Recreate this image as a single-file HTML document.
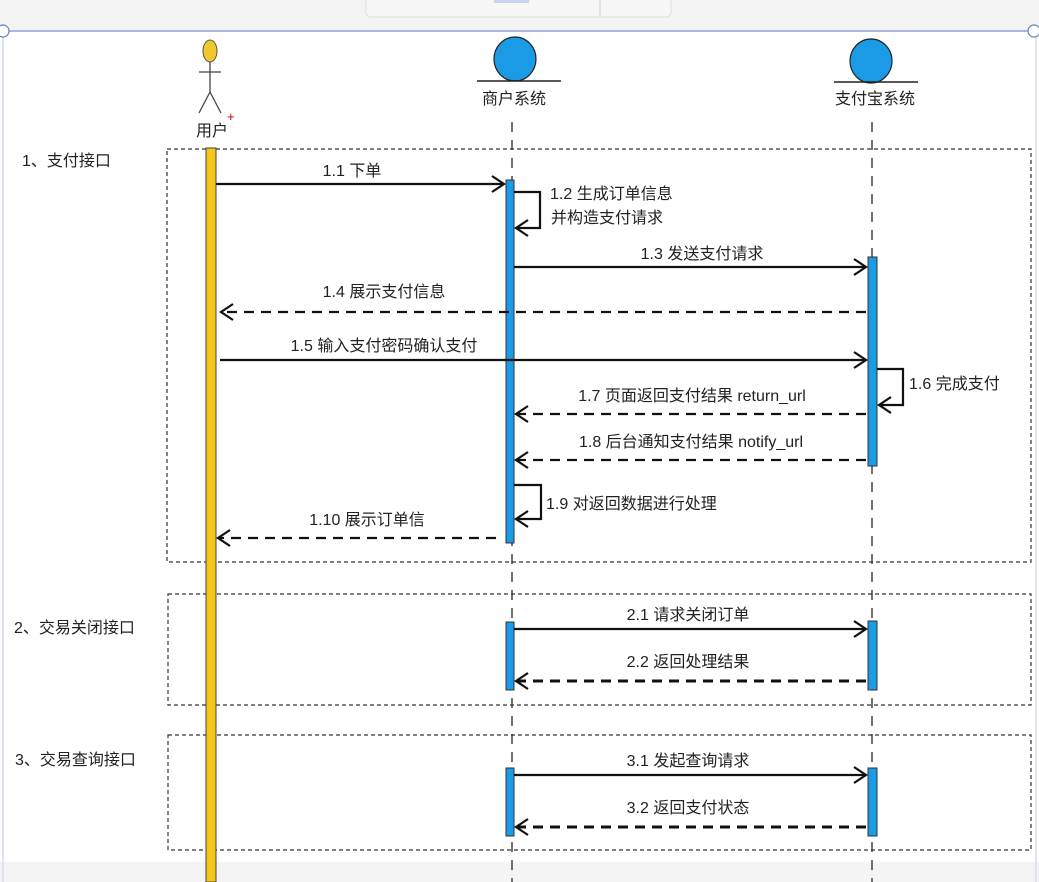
<!DOCTYPE html>
<html><head><meta charset="utf-8"><style>
html,body{margin:0;padding:0;background:#fff;}
svg{display:block;}
text{font-family:"Liberation Sans","Noto Sans CJK SC",sans-serif;font-size:16px;fill:#222;}
</style></head><body>
<svg width="1039" height="882" viewBox="0 0 1039 882" xmlns="http://www.w3.org/2000/svg">
<defs>
<marker id="a" markerWidth="18" markerHeight="18" refX="14" refY="9" orient="auto" markerUnits="userSpaceOnUse">
<path d="M2,1 L14,9 L2,17" fill="none" stroke="#111" stroke-width="2.2"/>
</marker>
</defs>
<rect x="0" y="0" width="1039" height="31" fill="#f3f3f3"/>
<rect x="366" y="-6" width="305" height="23" rx="5" fill="#f7f7f7" stroke="#ddd"/>
<line x1="600" y1="0" x2="600" y2="16" stroke="#ccc"/>
<rect x="494" y="0" width="35" height="3" fill="#c8d4f0"/>
<rect x="0" y="862" width="1039" height="20" fill="#f4f4f4"/>
<line x1="0" y1="31" x2="1039" y2="31" stroke="#a9b7e6" stroke-width="2"/>
<line x1="3" y1="31" x2="3" y2="882" stroke="#dde3f3" stroke-width="2"/>
<line x1="1036" y1="31" x2="1036" y2="882" stroke="#dde3f3" stroke-width="2"/>
<circle cx="3" cy="31" r="6" fill="#fff" stroke="#6d7fb8" stroke-width="1.2"/>
<circle cx="1034" cy="31" r="6" fill="#fff" stroke="#6d7fb8" stroke-width="1.2"/>

<ellipse cx="210" cy="51" rx="7" ry="11" fill="#f2c82c" stroke="#555"/>
<line x1="210" y1="62" x2="210" y2="92" stroke="#444" stroke-width="1.3"/>
<line x1="199" y1="72" x2="221" y2="72" stroke="#444" stroke-width="1.3"/>
<line x1="210" y1="92" x2="199" y2="113" stroke="#444" stroke-width="1.3"/>
<line x1="210" y1="92" x2="221" y2="113" stroke="#444" stroke-width="1.3"/>
<text x="227" y="121" style="fill:#c00;font-size:13px">+</text>
<text x="212" y="136" text-anchor="middle">用户</text>

<ellipse cx="515" cy="59" rx="21" ry="22" fill="#1b9ae6" stroke="#222" stroke-width="1.2"/>
<line x1="477" y1="81" x2="561" y2="81" stroke="#222" stroke-width="1.5"/>
<text x="514" y="104" text-anchor="middle">商户系统</text>
<ellipse cx="871" cy="61" rx="21" ry="22" fill="#1b9ae6" stroke="#222" stroke-width="1.2"/>
<line x1="834" y1="82" x2="918" y2="82" stroke="#222" stroke-width="1.5"/>
<text x="875" y="104" text-anchor="middle">支付宝系统</text>

<line x1="512" y1="122" x2="512" y2="882" stroke="#444" stroke-width="1.5" stroke-dasharray="10,8"/>
<line x1="872" y1="122" x2="872" y2="882" stroke="#444" stroke-width="1.5" stroke-dasharray="10,8"/>

<rect x="167" y="149" width="864" height="413" fill="none" stroke="#333" stroke-width="1.2" stroke-dasharray="4,3"/>
<rect x="168" y="594" width="863" height="111" fill="none" stroke="#333" stroke-width="1.2" stroke-dasharray="4,3"/>
<rect x="168" y="735" width="863" height="115" fill="none" stroke="#333" stroke-width="1.2" stroke-dasharray="4,3"/>
<text x="22" y="166">1、支付接口</text>
<text x="14" y="633">2、交易关闭接口</text>
<text x="15" y="765">3、交易查询接口</text>

<rect x="206" y="148" width="10" height="734" fill="#f5c518" stroke="#444" stroke-width="1"/>

<rect x="506" y="180" width="8" height="363" fill="#1b9ae6" stroke="#333"/>
<rect x="868" y="257" width="9" height="209" fill="#1b9ae6" stroke="#333"/>
<rect x="506" y="622" width="8" height="68" fill="#1b9ae6" stroke="#333"/>
<rect x="868" y="621" width="9" height="69" fill="#1b9ae6" stroke="#333"/>
<rect x="506" y="768" width="8" height="68" fill="#1b9ae6" stroke="#333"/>
<rect x="868" y="768" width="9" height="68" fill="#1b9ae6" stroke="#333"/>

<g stroke="#111" stroke-width="2.2" fill="none">
<line x1="216" y1="184" x2="504" y2="184" marker-end="url(#a)"/>
<polyline points="514,192 540,192 540,228 516,228" marker-end="url(#a)"/>
<line x1="514" y1="267" x2="866" y2="267" marker-end="url(#a)"/>
<line x1="866" y1="312" x2="221" y2="312" stroke-dasharray="10,7" marker-end="url(#a)"/>
<line x1="220" y1="360" x2="866" y2="360" marker-end="url(#a)"/>
<polyline points="877,369 903,369 903,405 879,405" marker-end="url(#a)"/>
<line x1="866" y1="414" x2="516" y2="414" stroke-dasharray="10,7" marker-end="url(#a)"/>
<line x1="866" y1="460" x2="516" y2="460" stroke-dasharray="10,7" marker-end="url(#a)"/>
<polyline points="514,485 541,485 541,519 516,519" marker-end="url(#a)"/>
<line x1="496" y1="538" x2="218" y2="538" stroke-dasharray="10,7" marker-end="url(#a)"/>
<line x1="514" y1="629" x2="866" y2="629" marker-end="url(#a)"/>
<line x1="866" y1="681" x2="516" y2="681" stroke-dasharray="10,7" stroke-width="3" marker-end="url(#a)"/>
<line x1="514" y1="775" x2="866" y2="775" marker-end="url(#a)"/>
<line x1="866" y1="827" x2="516" y2="827" stroke-dasharray="10,7" stroke-width="3" marker-end="url(#a)"/>
</g>

<text x="352" y="176" text-anchor="middle">1.1 下单</text>
<text x="550" y="199">1.2 生成订单信息</text>
<text x="551" y="223">并构造支付请求</text>
<text x="702" y="259" text-anchor="middle">1.3 发送支付请求</text>
<text x="384" y="297" text-anchor="middle">1.4 展示支付信息</text>
<text x="384" y="351" text-anchor="middle">1.5 输入支付密码确认支付</text>
<text x="909" y="389">1.6 完成支付</text>
<text x="692" y="401" text-anchor="middle">1.7 页面返回支付结果 return_url</text>
<text x="691" y="447" text-anchor="middle">1.8 后台通知支付结果 notify_url</text>
<text x="546" y="509">1.9 对返回数据进行处理</text>
<text x="367" y="525" text-anchor="middle">1.10  展示订单信</text>
<text x="688" y="620" text-anchor="middle">2.1 请求关闭订单</text>
<text x="688" y="667" text-anchor="middle">2.2 返回处理结果</text>
<text x="688" y="766" text-anchor="middle">3.1 发起查询请求</text>
<text x="688" y="813" text-anchor="middle">3.2 返回支付状态</text>
</svg>
</body></html>
